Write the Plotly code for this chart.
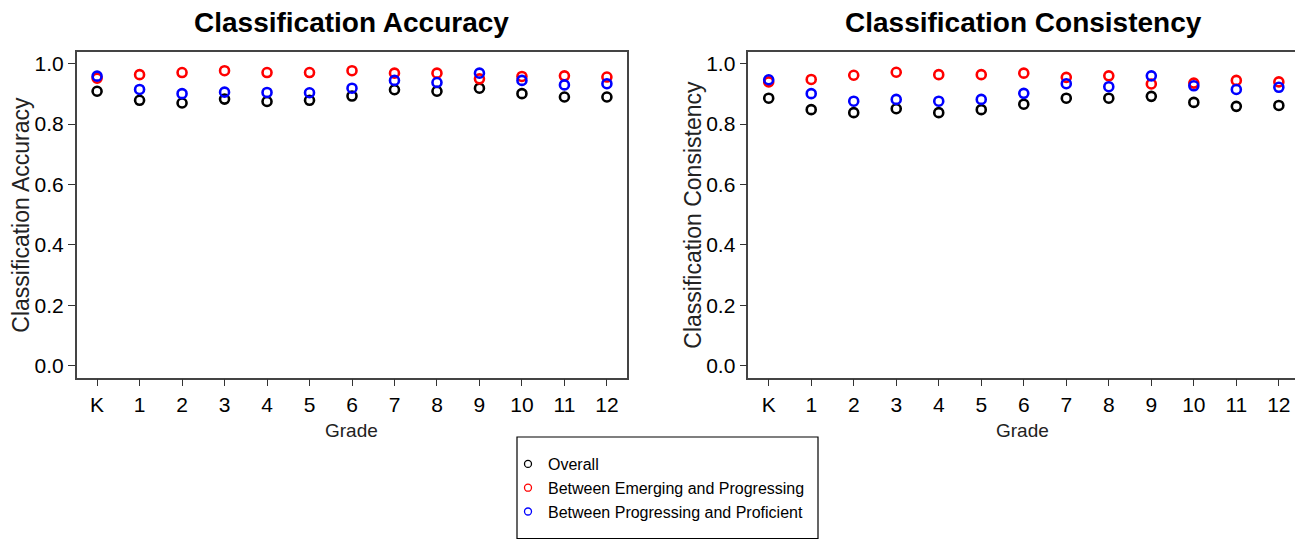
import plotly.graph_objects as go

GRADES = ["K", "1", "2", "3", "4", "5", "6", "7", "8", "9", "10", "11", "12"]

ACC_OVERALL = [0.909, 0.879, 0.870, 0.883, 0.875, 0.879, 0.893, 0.914, 0.909, 0.919, 0.901, 0.890, 0.890]
ACC_EMERG_PROG = [0.952, 0.964, 0.971, 0.977, 0.971, 0.971, 0.977, 0.969, 0.969, 0.950, 0.958, 0.960, 0.956]
ACC_PROG_PROF = [0.959, 0.915, 0.901, 0.906, 0.905, 0.904, 0.919, 0.945, 0.938, 0.969, 0.945, 0.930, 0.934]

CON_OVERALL = [0.886, 0.848, 0.838, 0.851, 0.838, 0.848, 0.866, 0.886, 0.886, 0.892, 0.872, 0.859, 0.862]
CON_EMERG_PROG = [0.940, 0.948, 0.962, 0.972, 0.964, 0.964, 0.969, 0.955, 0.960, 0.933, 0.936, 0.945, 0.940]
CON_PROG_PROF = [0.947, 0.901, 0.876, 0.882, 0.876, 0.882, 0.902, 0.934, 0.924, 0.960, 0.927, 0.915, 0.922]

SERIES_NAMES = ["Overall", "Between Emerging and Progressing", "Between Progressing and Proficient"]
COLORS = ["#000000", "#FF0000", "#0000FF"]
Y_TICKS = [0.0, 0.2, 0.4, 0.6, 0.8, 1.0]

W, H = 1295, 540
FONT = "Liberation Sans, Arial, sans-serif"

def px(x):
    return x / W

def py(y):
    return (H - y) / H

fig = go.Figure()

panels = [
    ("x", "y", [ACC_OVERALL, ACC_EMERG_PROG, ACC_PROG_PROF]),
    ("x2", "y2", [CON_OVERALL, CON_EMERG_PROG, CON_PROG_PROF]),
]
for xa, ya, data in panels:
    for vals, col in zip(data, COLORS):
        fig.add_trace(go.Scatter(
            x=GRADES, y=vals, mode="markers", xaxis=xa, yaxis=ya,
            showlegend=False, hoverinfo="x+y",
            marker=dict(symbol="circle-open", size=9, color=col,
                        line=dict(width=2.6, color=col)),
        ))

for name, col in zip(SERIES_NAMES, COLORS):
    fig.add_trace(go.Scatter(
        x=[None], y=[None], mode="markers", name=name, xaxis="x", yaxis="y",
        marker=dict(symbol="circle-open", size=7, color=col, line=dict(width=1.3, color=col)),
    ))

tick_font = dict(family=FONT, size=21, color="black")
axis_common = dict(showgrid=False, zeroline=False, ticks="outside", ticklen=7,
                   tickwidth=1, tickcolor="#333", linecolor="#444", linewidth=1.5,
                   tickfont=tick_font, showline=True)

fig.update_layout(
    width=W, height=H,
    margin=dict(l=0, r=0, t=0, b=0),
    paper_bgcolor="white", plot_bgcolor="white",
    xaxis=dict(domain=[px(76.7), px(627.3)], type="category", range=[-0.48, 12.48],
               anchor="y", mirror=True, **axis_common),
    yaxis=dict(domain=[py(377.7), py(51.7)], range=[-0.04, 1.04], tickvals=Y_TICKS,
               tickformat=".1f", anchor="x", mirror=True, **axis_common),
    xaxis2=dict(domain=[px(748.3), 1.0], type="category", range=[-0.48, 12.38],
                anchor="y2", mirror=True, **axis_common),
    yaxis2=dict(domain=[py(377.7), py(51.7)], range=[-0.04, 1.04], tickvals=Y_TICKS,
                tickformat=".1f", anchor="x2", mirror=False, **axis_common),
    legend=dict(x=px(508), y=py(447), xanchor="left", yanchor="top",
                font=dict(family=FONT, size=16, color="black"),
                bgcolor="rgba(0,0,0,0)", borderwidth=0, itemwidth=30,
                tracegroupgap=0),
    showlegend=True,
)

annots = [
    dict(text="<b>Classification Accuracy</b>", x=px(351), y=py(22),
         font=dict(family=FONT, size=28, color="black")),
    dict(text="<b>Classification Consistency</b>", x=px(1023), y=py(22),
         font=dict(family=FONT, size=28, color="black")),
    dict(text="Classification Accuracy", x=px(21), y=py(214.7), textangle=-90,
         font=dict(family=FONT, size=23, color="#222")),
    dict(text="Classification Consistency", x=px(693), y=py(214.7), textangle=-90,
         font=dict(family=FONT, size=23, color="#222")),
    dict(text="Grade", x=px(351), y=py(430), font=dict(family=FONT, size=19, color="#222")),
    dict(text="Grade", x=px(1022), y=py(430), font=dict(family=FONT, size=19, color="#222")),
]
for a in annots:
    fig.add_annotation(xref="paper", yref="paper", showarrow=False,
                       xanchor="center", yanchor="middle", **a)

fig.add_shape(type="rect", xref="paper", yref="paper",
              x0=px(517), x1=px(818), y0=py(538.5), y1=py(437),
              line=dict(color="black", width=1.2), fillcolor="rgba(0,0,0,0)")

fig.write_html("out.html", config={"displayModeBar": False},
               post_script="document.body.style.margin='0px';")
